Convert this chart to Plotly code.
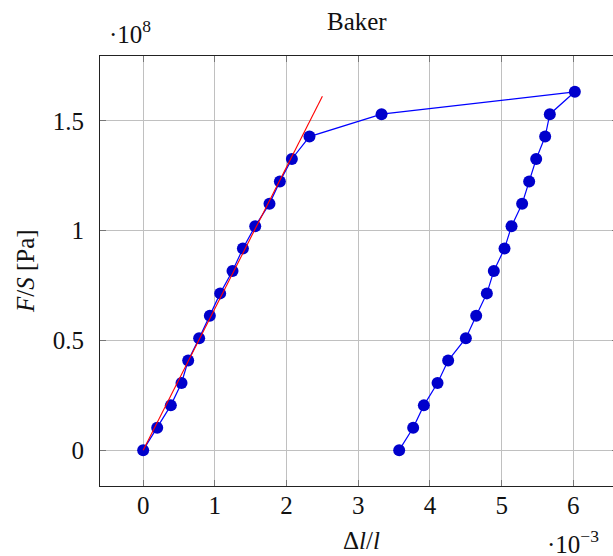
import plotly.graph_objects as go

# strain in units of 1e-3, stress in units of 1e8 Pa
strain = [0.0, 0.196, 0.386, 0.535, 0.628, 0.781, 0.930, 1.074, 1.246, 1.391,
          1.563, 1.762, 1.907, 2.074, 2.320, 3.325, 6.021,
          5.672, 5.607, 5.482, 5.384, 5.286, 5.138, 5.040, 4.891, 4.794,
          4.645, 4.501, 4.254, 4.106, 3.915, 3.766, 3.571]
stress = [0.0, 0.102, 0.204, 0.306, 0.408, 0.510, 0.612, 0.714, 0.816, 0.918,
          1.020, 1.122, 1.224, 1.326, 1.428, 1.530, 1.632,
          1.530, 1.428, 1.326, 1.224, 1.122, 1.020, 0.918, 0.816, 0.714,
          0.612, 0.510, 0.408, 0.306, 0.204, 0.102, 0.0]
fit_x = [0.0, 2.5]
fit_y = [0.0, 1.612]

x_ticks = [0, 1, 2, 3, 4, 5, 6]
y_ticks = [0, 0.5, 1, 1.5]

FONT = "Liberation Serif"
FS = 25
W, H = 620, 556
L, R, T, B = 100, 2, 56, 70
PW, PH = W - L - R, H - T - B


def px_x(px):
    return (px - L) / PW


def px_y(py):
    return (H - B - py) / PH


fig = go.Figure()
fig.add_trace(go.Scatter(x=strain, y=stress, mode="lines+markers",
                         line=dict(color="#0000ff", width=1.2),
                         marker=dict(color="#0000cc", size=12, line=dict(width=0)),
                         showlegend=False))
fig.add_trace(go.Scatter(x=fit_x, y=fit_y, mode="lines",
                         line=dict(color="#ff0000", width=1.1), showlegend=False))

axis_common = dict(showgrid=True, gridcolor="#c0c0c0", gridwidth=1,
                   showline=True, linecolor="#222", linewidth=1.2,
                   mirror="ticks", ticks="inside", ticklen=6, tickcolor="#777",
                   zeroline=False, tickfont=dict(family=FONT, size=FS, color="#111"))
fig.update_xaxes(range=[-0.602, 6.623], tickvals=x_ticks, ticklabelstandoff=-3, **axis_common)
fig.update_yaxes(range=[-0.1632, 1.795], tickvals=y_ticks, ticklabelstandoff=10, **axis_common)

ann_font = dict(family=FONT, size=FS, color="#111")
fig.update_layout(
    width=W, height=H,
    margin=dict(l=L, r=R, t=T, b=B),
    plot_bgcolor="white", paper_bgcolor="white",
    annotations=[
        dict(text="Baker", x=px_x(357), y=px_y(22), xref="paper", yref="paper",
             xanchor="center", yanchor="middle", showarrow=False, font=ann_font),
        dict(text="<i>F</i>/<i>S</i> [Pa]", textangle=-90, x=px_x(25), y=0.5,
             xref="paper", yref="paper", xanchor="center", yanchor="middle",
             showarrow=False, font=ann_font),
        dict(text="Δ<i>l</i>/<i>l</i>", x=px_x(361), y=px_y(540), xref="paper", yref="paper",
             xanchor="center", yanchor="middle", showarrow=False, font=ann_font),
        dict(text="·10<sup>8</sup>", x=px_x(107), y=px_y(32), xref="paper", yref="paper",
             xanchor="left", yanchor="middle", showarrow=False, font=ann_font),
        dict(text="·10<sup>−3</sup>", x=px_x(601), y=px_y(542), xref="paper", yref="paper",
             xanchor="right", yanchor="middle", showarrow=False, font=ann_font),
    ],
)

fig.write_html("out.html", config={"displayModeBar": False},
               post_script="document.body.style.margin='0';document.body.style.overflow='hidden';")
